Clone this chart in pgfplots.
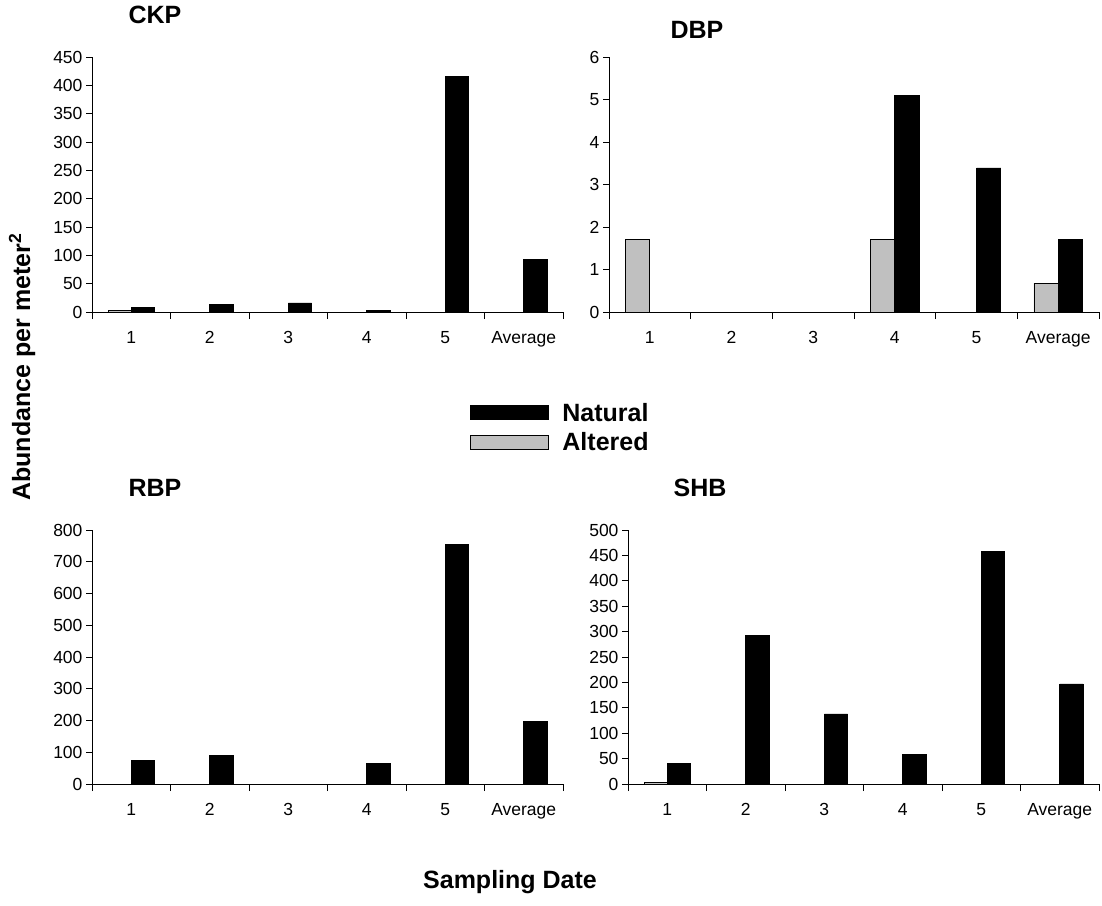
\documentclass[border=0pt]{standalone}
\usepackage{fontspec}
\setmainfont{Liberation Sans}
\usepackage{pgfplots}
\pgfplotsset{compat=1.18}
\definecolor{alt}{HTML}{C0C0C0}
\pgfplotsset{
  panel/.style={
    scale only axis,
    width=471pt, height=255pt,
    anchor=south west,
    axis x line*=bottom, axis y line*=left,
    axis line style={-, black, line width=0.8pt},
    xmin=-0.5, xmax=5.5, ymin=0,
    xtick={0,1,2,3,4,5},
    xticklabels={1,2,3,4,5,Average},
    major x tick style={draw=none},
    minor xtick={-0.5,0.5,1.5,2.5,3.5,4.5,5.5},
    minor tick length=7pt,
    major tick length=6pt,
    tick align=outside,
    tick style={black, line width=0.8pt},
    x tick label style={yshift=-10pt},
    tick label style={font=\fontsize{17.5}{20}\selectfont},
    /pgf/number format/assume math mode=true,
    clip=false,
  },
  nat/.style={ybar, bar width=0.297, bar shift=0.1485, draw=black, line width=0.8pt, fill=black, forget plot},
  altb/.style={ybar, bar width=0.297, bar shift=-0.1485, draw=black, line width=0.8pt, fill=alt, forget plot},
}
\begin{document}
\begin{tikzpicture}
\useasboundingbox (0,0) rectangle (1102pt,-905pt);
% CKP
\begin{axis}[panel, at={(92pt,-312pt)}, ymax=450, ytick={0,50,...,450},
  legend style={at={(0.795,-0.34)}, anchor=north west, draw=none, fill=none,
    font=\fontsize{25}{28}\selectfont\bfseries, row sep=6pt,
    /tikz/every odd column/.append style={column sep=12pt}},
  legend cell align=left]
\addplot[altb] coordinates {(0,2)};
\addplot[nat] coordinates {(0,7.5) (1,13.5) (2,16) (3,3) (4,416) (5,92)};
\addlegendimage{legend image code/.code={\draw[draw=black, fill=black, line width=0.8pt] (0pt,-7pt) rectangle (78pt,7pt);}}
\addlegendentry{Natural}
\addlegendimage{legend image code/.code={\draw[draw=black, fill=alt, line width=0.8pt] (0pt,-7pt) rectangle (78pt,7pt);}}
\addlegendentry{Altered}
\end{axis}
% DBP
\begin{axis}[panel, at={(609pt,-312pt)}, width=490pt, ymax=6, ytick={0,1,...,6}]
\addplot[altb] coordinates {(0,1.71) (3,1.71) (5,0.68)};
\addplot[nat] coordinates {(3,5.1) (4,3.39) (5,1.71)};
\end{axis}
% RBP
\begin{axis}[panel, at={(92pt,-784pt)}, height=254pt, ymax=800, ytick={0,100,...,800}]
\addplot[nat] coordinates {(0,75) (1,90) (3,65) (4,755) (5,197)};
\end{axis}
% SHB
\begin{axis}[panel, at={(628pt,-784pt)}, height=254pt, ymax=500, ytick={0,50,...,500}]
\addplot[altb] coordinates {(0,3)};
\addplot[nat] coordinates {(0,41) (1,292) (2,138) (3,58) (4,458) (5,197)};
\end{axis}
\node[font=\fontsize{25}{28}\selectfont\bfseries] at (155pt,-15pt) {CKP};
\node[font=\fontsize{25}{28}\selectfont\bfseries] at (697pt,-30pt) {DBP};
\node[font=\fontsize{25}{28}\selectfont\bfseries] at (155pt,-488pt) {RBP};
\node[font=\fontsize{25}{28}\selectfont\bfseries] at (700pt,-488pt) {SHB};
\node[font=\fontsize{25}{28}\selectfont\bfseries, rotate=90] at (22pt,-367pt) {Abundance per meter\textsuperscript{2}};
\node[font=\fontsize{25}{28}\selectfont\bfseries] at (510pt,-882pt) {Sampling Date};
\end{tikzpicture}
\end{document}
